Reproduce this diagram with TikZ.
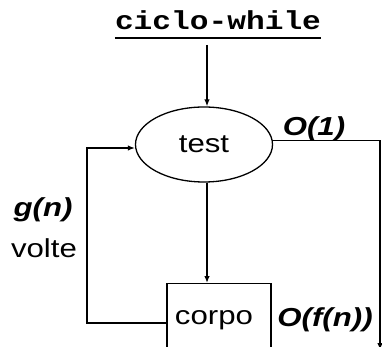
\documentclass[tikz,border=0pt]{standalone}
\usepackage{fontspec}
\setmainfont{Liberation Sans}[FakeStretch=1.2]
\setmonofont{Liberation Mono}[FakeStretch=1.2]
\usetikzlibrary{shapes.geometric,arrows.meta}
\begin{document}
\begin{tikzpicture}[x=1pt,y=-1pt,
  every node/.style={font=\fontsize{26}{30}\selectfont, inner sep=0pt},
  conn/.style={line width=1.3pt, -{Latex[length=7pt,width=5.5pt]}},
  plain/.style={line width=1.3pt},
  lbl/.style={font=\fontsize{26}{30}\selectfont\bfseries\itshape}]
\useasboundingbox (0,0) rectangle (382,347);
\clip (0,0) rectangle (382,347);
% title
\node[anchor=base, font=\fontsize{26}{30}\selectfont\ttfamily\bfseries] (title) at (218,30) {ciclo-while};
\draw[line width=2pt] ([yshift=-8pt]title.base west) -- ([yshift=-8pt]title.base east);
\coordinate (tin) at (207,45);
% nodes
\node[ellipse, draw, line width=1.3pt, minimum width=137pt, minimum height=75pt] (test) at (204,144.5) {test};
\node[draw, line width=1.3pt, minimum width=104pt, minimum height=80pt, anchor=north] (corpo) at (219,283) {};
\node at (214,320) (corpolbl) {corpo};
% connectors
\draw[conn] (tin) -- (tin |- test.north);
\draw[conn] (test.south -| tin) -- (corpo.north -| tin);
\coordinate (r1) at (272,140.5);
\coordinate (r2) at (380,140.5);
\coordinate (r3) at (380,350);
\draw[conn] (r1) -- (r2) -- (r3);
\coordinate (l1) at (87,323);
\coordinate (l2) at (87,148);
\draw[conn] (corpo.west |- l1) -- (l1) -- (l2) -- (test.west |- l2);
% labels
\node[lbl] (o1) at (314,129) {O(1)};
\node[lbl] (ofn) at (325,320) {O(f(n))};
\node[lbl] (gn) at (43,210) {g(n)};
\node (volte) at (44,248) {volte};
\end{tikzpicture}
\end{document}
